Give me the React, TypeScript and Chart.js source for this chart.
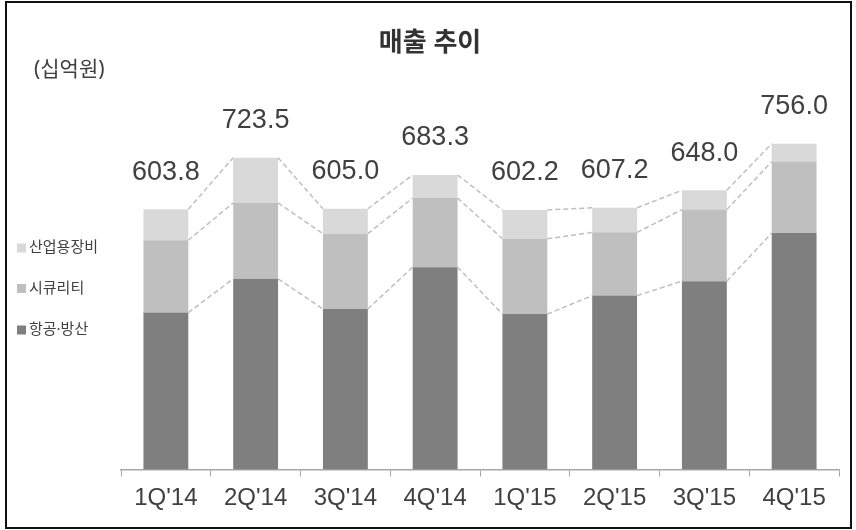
import React, { useEffect, useRef } from "react";
import { Chart, registerables } from "chart.js";

Chart.register(...registerables);

const categories = ["1Q'14", "2Q'14", "3Q'14", "4Q'14", "1Q'15", "2Q'15", "3Q'15", "4Q'15"];
const defense = [364.0, 442.5, 372.5, 469.5, 360.5, 403.5, 437.0, 548.5];
const security = [168.0, 176.0, 174.7, 160.3, 174.8, 146.7, 166.0, 166.0];
const industrial = [71.8, 105.0, 57.8, 53.5, 66.9, 57.0, 45.0, 41.5];
const totals = [603.8, 723.5, 605.0, 683.3, 602.2, 607.2, 648.0, 756.0];
const seriesNames = ["항공·방산", "시큐리티", "산업용장비"];
const seriesColors = ["#7f7f7f", "#bfbfbf", "#d9d9d9"];
const titleText = "매출 추이";
const unitText = "(십억원)";

const KR = "'Noto Sans', 'Noto Sans CJK KR', sans-serif";
const NUM = "'Liberation Sans', Arial, sans-serif";

const overlayPlugin = {
  id: "overlay",
  afterDatasetsDraw(chart: any) {
    const ctx = chart.ctx;
    const n = chart.data.datasets.length;
    ctx.save();
    ctx.strokeStyle = "#bfbfbf";
    ctx.lineWidth = 1.5;
    ctx.setLineDash([5, 3]);
    for (let d = 0; d < n; d++) {
      const meta = chart.getDatasetMeta(d);
      for (let i = 0; i < meta.data.length - 1; i++) {
        const a = meta.data[i];
        const b = meta.data[i + 1];
        ctx.beginPath();
        ctx.moveTo(a.x + a.width / 2, a.y);
        ctx.lineTo(b.x - b.width / 2, b.y);
        ctx.stroke();
      }
    }
    ctx.setLineDash([]);
    // totals
    const top = chart.getDatasetMeta(n - 1);
    ctx.fillStyle = "#404040";
    ctx.font = `27px ${NUM}`;
    ctx.textAlign = "center";
    ctx.textBaseline = "middle";
    top.data.forEach((el: any, i: number) => {
      ctx.fillText(totals[i].toFixed(1), el.x, el.y - 37);
    });
    ctx.restore();
  },
  afterDraw(chart: any) {
    const ctx = chart.ctx;
    ctx.save();
    // title
    ctx.fillStyle = "#333333";
    ctx.font = `bold 26px ${KR}`;
    ctx.textAlign = "center";
    ctx.textBaseline = "middle";
    ctx.fillText(titleText, 430, 44);
    // unit
    ctx.fillStyle = "#404040";
    ctx.font = `21px ${KR}`;
    ctx.textAlign = "left";
    ctx.fillText(unitText, 34, 70);
    // legend
    const ys = [248, 288.5, 330];
    ctx.font = `15px ${KR}`;
    for (let k = 0; k < 3; k++) {
      const idx = 2 - k;
      ctx.fillStyle = seriesColors[idx];
      ctx.fillRect(17, ys[k] - 4.5, 9, 9);
      ctx.fillStyle = "#404040";
      ctx.fillText(seriesNames[idx], 29, ys[k]);
    }
    // frame
    ctx.strokeStyle = "#111111";
    ctx.lineWidth = 2;
    ctx.strokeRect(6, 2, 845, 526);
    ctx.restore();
  },
};

export default function App() {
  const ref = useRef<HTMLCanvasElement>(null);
  useEffect(() => {
    if (!ref.current) return;
    const chart = new Chart(ref.current, {
      type: "bar",
      data: {
        labels: categories,
        datasets: [
          { label: seriesNames[0], data: defense, backgroundColor: seriesColors[0] },
          { label: seriesNames[1], data: security, backgroundColor: seriesColors[1] },
          { label: seriesNames[2], data: industrial, backgroundColor: seriesColors[2] },
        ],
      },
      options: {
        responsive: false,
        animation: false,
        devicePixelRatio: 1,
        layout: { padding: { left: 121, right: 17, top: 38.5, bottom: 10.7 } },
        datasets: { bar: { categoryPercentage: 1, barPercentage: 0.5 } },
        plugins: { legend: { display: false }, tooltip: { enabled: false }, title: { display: false } },
        scales: {
          x: {
            stacked: true,
            offset: true,
            grid: { drawOnChartArea: false, drawTicks: true, tickLength: 7, color: "#a6a6a6", offset: true },
            border: { color: "#a6a6a6", width: 1.5 },
            ticks: { color: "#404040", font: { family: NUM, size: 24 }, padding: 7 },
          },
          y: {
            stacked: true,
            display: false,
            min: 0,
            max: 1000,
          },
        },
      },
      plugins: [overlayPlugin],
    });
    return () => chart.destroy();
  }, []);
  return (
    <div style={{ position: "absolute", left: 0, top: 0, width: 856, height: 530, background: "#fff" }}>
      <canvas ref={ref} width={856} height={530} style={{ width: 856, height: 530, display: "block" }} />
    </div>
  );
}
